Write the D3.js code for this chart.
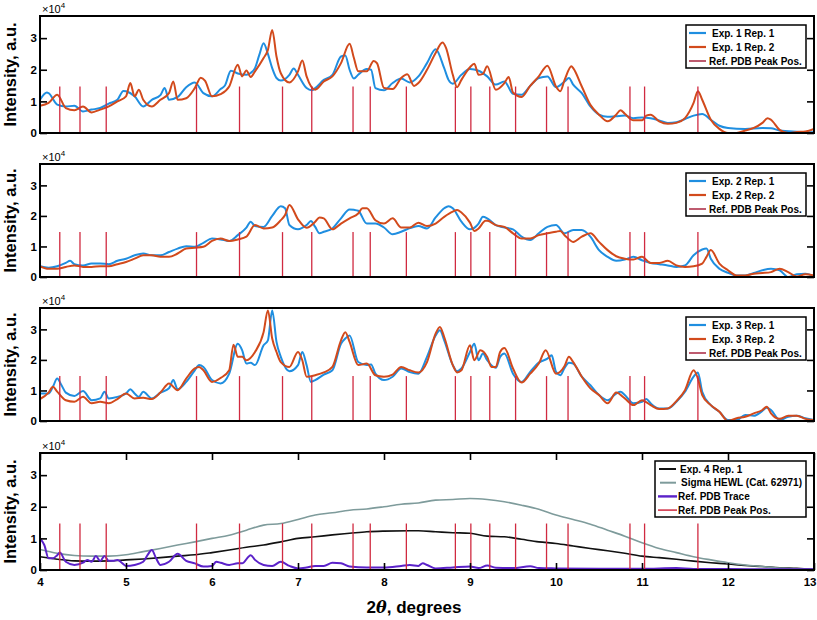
<!DOCTYPE html>
<html><head><meta charset="utf-8">
<script src="https://cdn.jsdelivr.net/npm/d3@7"></script>
<style>
html,body{margin:0;padding:0;background:#fff;}
svg{display:block;font-family:"Liberation Sans",Arial,Helvetica,sans-serif;}
</style></head>
<body>
<svg id="chart" width="817" height="620"></svg>
<script>
// ---------- DATA (intensity in units of 10^4) ----------
const xTicks = [4,5,6,7,8,9,10,11,12,13];
const yTicks = [0,1,2,3];
const refPeaks = [4.23,4.465,4.77,5.82,6.32,6.82,7.16,7.64,7.84,8.26,8.83,9.01,9.23,9.53,9.89,10.14,10.86,11.03,11.65];
const refPeakHeight = 1.47;

const exp1Rep1 = [[4.0,1.05],[4.08,1.28],[4.1,1.26],[4.2,0.9],[4.3,0.84],[4.4,0.86],[4.5,0.68],[4.6,0.74],[4.7,0.79],[4.8,0.93],[4.9,1.05],[4.97,1.33],[5.0,1.32],[5.1,1.16],[5.2,0.84],[5.3,1.05],[5.4,1.2],[5.45,1.42],[5.5,1.05],[5.6,1.14],[5.7,1.45],[5.8,1.6],[5.9,1.26],[6.0,1.16],[6.1,1.39],[6.15,1.5],[6.22,1.97],[6.3,1.88],[6.4,1.84],[6.45,1.9],[6.5,2.05],[6.55,2.47],[6.6,2.84],[6.65,2.5],[6.7,2.05],[6.75,1.74],[6.8,1.66],[6.9,1.84],[6.95,2.04],[7.0,1.84],[7.1,1.42],[7.16,1.35],[7.2,1.42],[7.3,1.68],[7.4,1.84],[7.5,2.42],[7.55,2.45],[7.6,2.0],[7.65,1.72],[7.7,1.84],[7.8,2.02],[7.85,2.0],[7.9,1.42],[8.0,1.35],[8.1,1.58],[8.2,1.72],[8.3,1.6],[8.4,1.79],[8.5,2.21],[8.6,2.65],[8.7,2.05],[8.75,1.68],[8.8,1.56],[8.9,1.84],[9.0,2.02],[9.1,1.97],[9.2,1.79],[9.3,1.53],[9.4,1.63],[9.5,1.24],[9.6,1.21],[9.7,1.49],[9.8,1.74],[9.9,1.79],[10.0,1.45],[10.1,1.63],[10.15,1.74],[10.2,1.53],[10.3,1.26],[10.4,0.84],[10.5,0.58],[10.6,0.51],[10.7,0.53],[10.8,0.55],[10.9,0.47],[11.0,0.49],[11.1,0.47],[11.2,0.4],[11.3,0.32],[11.4,0.34],[11.5,0.44],[11.6,0.55],[11.7,0.6],[11.8,0.42],[11.9,0.23],[12.0,0.16],[12.2,0.13],[12.4,0.16],[12.5,0.15],[12.6,0.08],[12.8,0.04],[13.0,0.02]];
const exp1Rep2 = [[4.0,0.86],[4.1,0.95],[4.2,1.21],[4.3,0.79],[4.4,0.72],[4.5,0.84],[4.6,0.65],[4.7,0.74],[4.8,0.84],[4.9,1.0],[5.0,1.16],[5.05,1.58],[5.1,1.16],[5.15,1.37],[5.2,1.05],[5.3,0.84],[5.4,1.05],[5.5,1.26],[5.55,1.63],[5.6,1.05],[5.7,1.1],[5.8,1.42],[5.87,1.75],[5.92,1.65],[6.0,1.16],[6.1,1.23],[6.2,1.47],[6.3,2.16],[6.35,1.79],[6.4,1.98],[6.45,1.77],[6.5,1.95],[6.6,2.37],[6.65,2.63],[6.7,3.26],[6.75,2.42],[6.8,1.89],[6.9,1.6],[7.0,1.95],[7.05,2.29],[7.1,1.79],[7.2,1.37],[7.3,1.63],[7.4,1.79],[7.5,2.21],[7.6,2.82],[7.65,2.37],[7.7,1.95],[7.8,1.95],[7.88,2.28],[7.92,2.2],[8.0,1.42],[8.1,1.39],[8.2,1.74],[8.27,1.86],[8.35,1.49],[8.4,1.58],[8.5,2.0],[8.6,2.53],[8.68,2.86],[8.72,2.7],[8.8,1.84],[8.85,1.45],[8.9,1.68],[9.0,2.08],[9.05,2.19],[9.1,1.84],[9.15,1.87],[9.2,2.11],[9.3,1.37],[9.4,1.58],[9.45,1.77],[9.5,1.28],[9.6,1.14],[9.7,1.49],[9.8,1.79],[9.9,2.13],[10.0,1.47],[10.05,1.32],[10.1,1.68],[10.18,2.11],[10.2,2.05],[10.3,1.47],[10.4,0.89],[10.5,0.58],[10.6,0.37],[10.7,0.58],[10.75,0.72],[10.8,0.61],[10.9,0.4],[11.0,0.4],[11.05,0.55],[11.1,0.58],[11.2,0.37],[11.3,0.29],[11.4,0.32],[11.5,0.47],[11.6,0.95],[11.65,1.32],[11.7,1.05],[11.8,0.42],[11.9,0.13],[12.0,0.0],[12.1,0.0],[12.2,0.08],[12.3,0.16],[12.4,0.32],[12.46,0.47],[12.5,0.42],[12.6,0.1],[12.7,0.0],[12.8,0.03],[12.9,0.05],[13.0,0.13]];

const exp2Rep1 = [[4.0,0.35],[4.1,0.3],[4.2,0.35],[4.3,0.46],[4.35,0.53],[4.4,0.42],[4.5,0.38],[4.6,0.44],[4.7,0.44],[4.8,0.42],[4.9,0.53],[5.0,0.6],[5.1,0.71],[5.2,0.77],[5.3,0.71],[5.4,0.71],[5.5,0.82],[5.6,0.93],[5.7,1.01],[5.8,0.99],[5.9,1.12],[6.0,1.26],[6.1,1.23],[6.2,1.18],[6.3,1.37],[6.4,1.62],[6.45,1.81],[6.5,1.67],[6.6,1.64],[6.7,2.0],[6.8,2.32],[6.85,2.25],[6.9,1.7],[7.0,1.56],[7.1,1.7],[7.15,1.83],[7.2,1.64],[7.25,1.43],[7.3,1.48],[7.4,1.59],[7.5,1.92],[7.6,2.21],[7.65,2.2],[7.7,2.17],[7.8,1.75],[7.9,1.75],[8.0,1.62],[8.1,1.4],[8.2,1.48],[8.3,1.6],[8.4,1.67],[8.5,1.59],[8.6,1.95],[8.7,2.25],[8.75,2.32],[8.8,2.25],[8.9,1.81],[9.0,1.56],[9.1,1.75],[9.15,1.97],[9.2,1.92],[9.3,1.7],[9.4,1.62],[9.5,1.56],[9.6,1.32],[9.7,1.21],[9.8,1.43],[9.9,1.64],[10.0,1.7],[10.1,1.43],[10.2,1.54],[10.3,1.54],[10.4,1.32],[10.5,0.88],[10.6,0.66],[10.7,0.53],[10.8,0.57],[10.9,0.66],[11.0,0.55],[11.1,0.46],[11.2,0.42],[11.3,0.38],[11.4,0.33],[11.5,0.38],[11.6,0.71],[11.7,0.9],[11.75,0.93],[11.8,0.6],[11.9,0.27],[12.0,0.14],[12.1,0.05],[12.2,0.05],[12.3,0.13],[12.4,0.22],[12.5,0.27],[12.6,0.22],[12.7,0.0],[12.8,0.09],[12.9,0.11],[13.0,0.02]];
const exp2Rep2 = [[4.0,0.35],[4.1,0.27],[4.2,0.27],[4.3,0.33],[4.4,0.38],[4.5,0.33],[4.6,0.33],[4.7,0.35],[4.8,0.35],[4.9,0.42],[5.0,0.49],[5.1,0.6],[5.2,0.71],[5.3,0.71],[5.4,0.66],[5.5,0.66],[5.6,0.77],[5.7,0.93],[5.8,0.96],[5.9,0.99],[6.0,1.18],[6.1,1.26],[6.2,1.18],[6.3,1.23],[6.4,1.32],[6.5,1.7],[6.6,1.59],[6.7,1.62],[6.8,1.86],[6.85,2.03],[6.9,2.36],[7.0,1.89],[7.1,1.61],[7.2,1.81],[7.25,1.95],[7.3,1.92],[7.4,1.56],[7.5,1.75],[7.6,1.92],[7.7,2.08],[7.75,2.25],[7.8,2.25],[7.9,1.86],[8.0,1.75],[8.1,1.92],[8.2,1.62],[8.3,1.62],[8.4,1.78],[8.5,1.67],[8.6,1.75],[8.7,1.97],[8.8,2.14],[8.85,2.19],[8.9,2.11],[9.0,1.78],[9.05,1.51],[9.1,1.59],[9.18,1.84],[9.2,1.84],[9.3,1.7],[9.4,1.64],[9.5,1.43],[9.6,1.26],[9.7,1.26],[9.8,1.37],[9.9,1.43],[10.0,1.48],[10.05,1.51],[10.1,1.37],[10.2,1.15],[10.3,1.32],[10.4,1.43],[10.5,1.15],[10.6,0.88],[10.7,0.68],[10.8,0.6],[10.9,0.57],[11.0,0.66],[11.1,0.46],[11.2,0.46],[11.3,0.53],[11.4,0.38],[11.5,0.33],[11.6,0.35],[11.7,0.44],[11.75,0.66],[11.8,0.88],[11.9,0.44],[12.0,0.22],[12.1,0.05],[12.2,0.05],[12.3,0.11],[12.4,0.13],[12.5,0.16],[12.6,0.27],[12.7,0.16],[12.8,0.02],[12.9,0.09],[13.0,0.05]];

const exp3Rep1 = [[4.0,0.9],[4.1,0.9],[4.15,1.12],[4.2,1.39],[4.25,1.17],[4.3,0.93],[4.4,0.82],[4.5,0.98],[4.6,0.68],[4.7,0.74],[4.75,0.96],[4.8,0.74],[4.9,0.79],[5.0,0.9],[5.05,1.04],[5.1,0.9],[5.15,0.79],[5.2,0.96],[5.3,0.74],[5.4,0.93],[5.5,1.07],[5.55,1.34],[5.6,1.04],[5.7,1.28],[5.8,1.66],[5.85,1.83],[5.9,1.77],[6.0,1.34],[6.1,1.23],[6.2,1.55],[6.3,2.53],[6.35,2.32],[6.4,1.88],[6.45,1.91],[6.5,1.83],[6.6,2.48],[6.65,2.64],[6.7,3.62],[6.75,2.59],[6.8,2.1],[6.9,1.63],[7.0,1.83],[7.05,2.26],[7.1,1.83],[7.15,1.28],[7.2,1.34],[7.3,1.52],[7.4,1.66],[7.5,2.53],[7.55,2.7],[7.6,2.8],[7.7,1.93],[7.8,1.83],[7.85,1.85],[7.9,1.55],[8.0,1.34],[8.1,1.45],[8.2,1.72],[8.3,1.6],[8.4,1.55],[8.5,2.1],[8.6,2.8],[8.65,2.97],[8.7,2.64],[8.8,1.83],[8.85,1.63],[8.9,1.72],[9.0,2.26],[9.05,2.53],[9.1,1.99],[9.15,2.21],[9.2,1.99],[9.3,1.74],[9.35,2.1],[9.4,2.21],[9.5,1.55],[9.6,1.28],[9.7,1.61],[9.8,1.91],[9.9,2.04],[9.95,2.15],[10.0,1.61],[10.05,1.5],[10.1,1.74],[10.15,1.91],[10.2,1.88],[10.3,1.45],[10.4,1.17],[10.5,0.85],[10.6,0.68],[10.7,0.9],[10.75,0.96],[10.8,0.85],[10.9,0.58],[11.0,0.63],[11.05,0.72],[11.1,0.58],[11.2,0.41],[11.3,0.41],[11.4,0.63],[11.5,0.96],[11.6,1.45],[11.65,1.59],[11.7,0.96],[11.8,0.52],[11.9,0.3],[12.0,0.03],[12.1,0.03],[12.2,0.2],[12.3,0.17],[12.4,0.33],[12.45,0.43],[12.5,0.36],[12.6,0.03],[12.7,0.14],[12.8,0.17],[12.9,0.09],[13.0,0.03]];
const exp3Rep2 = [[4.0,0.72],[4.1,0.93],[4.15,1.12],[4.2,0.96],[4.3,0.68],[4.4,0.63],[4.5,0.79],[4.6,0.58],[4.7,0.63],[4.8,0.58],[4.9,0.72],[5.0,0.9],[5.1,0.74],[5.2,0.76],[5.3,0.72],[5.4,0.93],[5.5,1.23],[5.6,1.01],[5.7,1.39],[5.8,1.72],[5.85,1.77],[5.9,1.66],[6.0,1.28],[6.1,1.41],[6.2,1.66],[6.25,2.5],[6.3,2.1],[6.35,2.1],[6.4,1.99],[6.5,2.26],[6.6,2.91],[6.65,3.62],[6.7,2.7],[6.75,2.26],[6.8,1.93],[6.9,1.77],[7.0,2.26],[7.05,1.99],[7.1,1.45],[7.2,1.5],[7.3,1.59],[7.4,1.77],[7.5,2.64],[7.55,2.91],[7.6,2.59],[7.7,1.83],[7.8,1.88],[7.9,1.5],[8.0,1.45],[8.1,1.52],[8.2,1.77],[8.3,1.66],[8.4,1.59],[8.5,1.93],[8.6,2.86],[8.65,3.08],[8.7,2.75],[8.8,1.83],[8.85,1.59],[8.9,1.66],[9.0,2.48],[9.05,1.99],[9.12,2.32],[9.2,2.1],[9.25,1.77],[9.3,1.77],[9.35,2.26],[9.4,2.39],[9.5,1.72],[9.6,1.26],[9.7,1.55],[9.8,1.88],[9.88,2.32],[10.0,1.55],[10.1,1.8],[10.15,2.1],[10.2,1.93],[10.3,1.45],[10.4,1.07],[10.5,0.85],[10.6,0.58],[10.7,0.93],[10.8,0.74],[10.9,0.52],[11.0,0.68],[11.1,0.52],[11.2,0.39],[11.3,0.41],[11.4,0.65],[11.5,1.01],[11.6,1.66],[11.65,1.39],[11.7,0.85],[11.8,0.52],[11.9,0.3],[12.0,0.0],[12.1,0.09],[12.2,0.14],[12.3,0.25],[12.4,0.36],[12.45,0.47],[12.5,0.25],[12.6,0.07],[12.7,0.17],[12.8,0.17],[12.9,0.07],[13.0,0.03]];

const exp4Rep1 = [[4.0,0.42],[4.2,0.34],[4.4,0.29],[4.6,0.28],[4.8,0.29],[5.0,0.32],[5.2,0.35],[5.4,0.39],[5.6,0.44],[5.8,0.48],[6.0,0.55],[6.2,0.63],[6.4,0.72],[6.6,0.79],[6.8,0.89],[7.0,1.0],[7.2,1.05],[7.4,1.11],[7.6,1.16],[7.8,1.21],[8.0,1.23],[8.3,1.24],[8.4,1.24],[8.6,1.21],[8.8,1.18],[9.0,1.16],[9.2,1.07],[9.4,1.05],[9.6,0.97],[9.8,0.89],[10.0,0.84],[10.2,0.76],[10.4,0.68],[10.6,0.61],[10.8,0.53],[11.0,0.44],[11.2,0.39],[11.4,0.34],[11.6,0.28],[11.8,0.23],[12.0,0.19],[12.2,0.14],[12.4,0.11],[12.6,0.07],[12.8,0.05],[13.0,0.02]];
const sigmaHEWL = [[4.0,0.65],[4.2,0.53],[4.4,0.46],[4.6,0.44],[4.8,0.44],[5.0,0.48],[5.2,0.58],[5.4,0.68],[5.6,0.79],[5.8,0.89],[6.0,1.0],[6.2,1.1],[6.4,1.26],[6.6,1.42],[6.8,1.47],[7.0,1.6],[7.2,1.74],[7.4,1.81],[7.6,1.89],[7.8,1.93],[8.0,2.0],[8.2,2.08],[8.4,2.12],[8.6,2.21],[8.8,2.23],[9.0,2.26],[9.2,2.23],[9.4,2.16],[9.6,2.05],[9.8,1.92],[10.0,1.74],[10.2,1.6],[10.4,1.45],[10.6,1.26],[10.8,1.07],[11.0,0.86],[11.2,0.68],[11.4,0.55],[11.6,0.42],[11.8,0.32],[12.0,0.23],[12.2,0.16],[12.4,0.11],[12.6,0.06],[12.8,0.04],[13.0,0.02]];
const refPdbTrace = [[4.0,1.0],[4.05,0.79],[4.1,0.37],[4.15,0.37],[4.2,0.47],[4.23,0.55],[4.3,0.26],[4.4,0.16],[4.5,0.23],[4.55,0.32],[4.6,0.26],[4.65,0.44],[4.7,0.28],[4.75,0.44],[4.8,0.29],[4.85,0.29],[4.9,0.32],[4.95,0.23],[5.0,0.13],[5.1,0.16],[5.2,0.26],[5.25,0.47],[5.3,0.63],[5.35,0.37],[5.4,0.16],[5.5,0.26],[5.6,0.51],[5.7,0.29],[5.8,0.21],[5.9,0.11],[6.0,0.13],[6.05,0.26],[6.1,0.23],[6.2,0.16],[6.3,0.21],[6.35,0.21],[6.45,0.47],[6.5,0.32],[6.6,0.16],[6.7,0.13],[6.8,0.26],[6.9,0.13],[7.0,0.05],[7.1,0.08],[7.2,0.13],[7.3,0.13],[7.4,0.23],[7.5,0.21],[7.6,0.11],[7.8,0.08],[8.0,0.08],[8.2,0.13],[8.3,0.16],[8.4,0.13],[8.45,0.21],[8.5,0.16],[8.6,0.05],[8.8,0.08],[9.0,0.11],[9.1,0.06],[9.2,0.14],[9.3,0.07],[9.5,0.06],[9.7,0.12],[9.8,0.06],[10.0,0.05],[10.5,0.04],[11.0,0.04],[11.4,0.06],[11.6,0.03],[12.0,0.03],[12.5,0.02],[13.0,0.02]];

// ---------- LAYOUT ----------
const W = 817, H = 620;
const X0 = 40, X1 = 814;
const panels = [
  {top:16, bottom:133, series:[{name:"Exp. 1 Rep. 1", data:exp1Rep1, color:"#1f8ee0"},{name:"Exp. 1 Rep. 2", data:exp1Rep2, color:"#d24a1c"}], legend:"small"},
  {top:164, bottom:277, series:[{name:"Exp. 2 Rep. 1", data:exp2Rep1, color:"#1f8ee0"},{name:"Exp. 2 Rep. 2", data:exp2Rep2, color:"#d24a1c"}], legend:"small"},
  {top:308, bottom:421, series:[{name:"Exp. 3 Rep. 1", data:exp3Rep1, color:"#1f8ee0"},{name:"Exp. 3 Rep. 2", data:exp3Rep2, color:"#d24a1c"}], legend:"small"},
  {top:453, bottom:570, series:[{name:"Exp. 4 Rep. 1", data:exp4Rep1, color:"#111111", w:1.6},{name:"Sigma HEWL (Cat. 62971)", data:sigmaHEWL, color:"#7e9b9b", w:1.6},{name:"Ref. PDB Trace", data:refPdbTrace, color:"#5b22c9", w:2}], legend:"big"}
];
const refColor = "#d02a40";

const svg = d3.select("#chart");
svg.append("rect").attr("width",W).attr("height",H).attr("fill","#fff");
const x = d3.scaleLinear().domain([4,13]).range([X0,X1]);

panels.forEach((p,i)=>{
  const y = d3.scaleLinear().domain([0,3.7]).range([p.bottom,p.top]);
  const g = svg.append("g");
  const clipId = "clip"+i;
  svg.append("clipPath").attr("id",clipId).append("rect")
    .attr("x",X0).attr("y",p.top).attr("width",X1-X0).attr("height",p.bottom-p.top);
  const line = d3.line().x(d=>x(d[0])).y(d=>y(d[1])).curve(d3.curveMonotoneX);
  const plot = g.append("g").attr("clip-path",`url(#${clipId})`);
  p.series.forEach(s=>{
    plot.append("path").datum(s.data).attr("d",line).attr("fill","none")
      .attr("stroke",s.color).attr("stroke-width",s.w||2).attr("stroke-linejoin","round");
  });
  plot.selectAll("line.ref").data(refPeaks).enter().append("line")
    .attr("x1",d=>x(d)).attr("x2",d=>x(d)).attr("y1",y(0)).attr("y2",y(refPeakHeight))
    .attr("stroke",refColor).attr("stroke-width",1.3);

  // frame
  g.append("rect").attr("x",X0).attr("y",p.top).attr("width",X1-X0).attr("height",p.bottom-p.top)
    .attr("fill","none").attr("stroke","#000").attr("stroke-width",2);

  // y ticks (inward, both sides)
  const yAxL = d3.axisRight(y).tickValues(yTicks).tickSize(7).tickFormat("");
  const gl = g.append("g").attr("transform",`translate(${X0},0)`).call(yAxL);
  const yAxR = d3.axisLeft(y).tickValues(yTicks).tickSize(7).tickFormat("");
  const gr = g.append("g").attr("transform",`translate(${X1},0)`).call(yAxR);
  [gl,gr].forEach(a=>{a.select(".domain").remove(); a.selectAll(".tick line").attr("stroke","#000").attr("stroke-width",1.6);});
  // y tick labels
  const yLab = d3.axisLeft(y).tickValues(yTicks).tickSize(0).tickPadding(3).tickFormat(d3.format("d"));
  const gyl = g.append("g").attr("transform",`translate(${X0},0)`).call(yLab);
  gyl.select(".domain").remove();
  gyl.selectAll("text").attr("font-size",11.5).attr("font-weight","bold").attr("fill","#000")
     .attr("font-family","Liberation Sans, Arial, sans-serif");

  // ×10^4
  const m = g.append("text").attr("x",X0+2).attr("y",p.top-3).attr("font-size",11).attr("fill","#000");
  m.append("tspan").text("×10");
  m.append("tspan").attr("dy",-5).attr("font-size",8).text("4");

  // y title
  g.append("text").attr("transform",`translate(16,${(p.top+p.bottom)/2}) rotate(-90)`)
    .attr("text-anchor","middle").attr("font-size",16.5).attr("font-weight","bold").text("Intensity, a.u.");

  // x axis ticks for bottom panel
  if(i===3){
    const xb = d3.axisTop(x).tickValues(xTicks).tickSize(7).tickFormat("");
    const gxb = g.append("g").attr("transform",`translate(0,${p.bottom})`).call(xb);
    const xt = d3.axisBottom(x).tickValues(xTicks).tickSize(7).tickFormat("");
    const gxt = g.append("g").attr("transform",`translate(0,${p.top})`).call(xt);
    [gxb,gxt].forEach(a=>{a.select(".domain").remove(); a.selectAll(".tick line").attr("stroke","#000").attr("stroke-width",1.6);});
    const xl = d3.axisBottom(x).tickValues(xTicks).tickSize(0).tickPadding(8).tickFormat(d3.format("d"));
    const gxl = g.append("g").attr("transform",`translate(0,${p.bottom})`).call(xl);
    gxl.select(".domain").remove();
    gxl.selectAll("text").attr("font-size",11.5).attr("font-weight","bold").attr("fill","#000")
      .attr("font-family","Liberation Sans, Arial, sans-serif");
    gxl.selectAll(".tick").filter(d=>d===13).select("text").attr("text-anchor","end").attr("dx",2);
  }

  // legend
  const lg = g.append("g");
  if(p.legend==="small"){
    const bx=686, by=p.top+9, bw=120, bh=43;
    lg.append("rect").attr("x",bx).attr("y",by).attr("width",bw).attr("height",bh)
      .attr("fill","#fff").attr("stroke","#000").attr("stroke-width",1.5);
    const items = [
      {name:p.series[0].name, color:p.series[0].color, w:2.2, tx:712},
      {name:p.series[1].name, color:p.series[1].color, w:2.2, tx:712},
      {name:"Ref. PDB Peak Pos.", color:"#a8253f", w:1.5, tx:709}
    ];
    items.forEach((it,k)=>{
      const ry = by+8+k*14;
      lg.append("line").attr("x1",689).attr("x2",706).attr("y1",ry).attr("y2",ry)
        .attr("stroke",it.color).attr("stroke-width",it.w);
      lg.append("text").attr("x",it.tx).attr("y",ry+3.6).attr("font-size",10).attr("font-weight","bold").text(it.name);
    });
  } else {
    const bx=655, by=p.top+8, bw=151, bh=56;
    lg.append("rect").attr("x",bx).attr("y",by).attr("width",bw).attr("height",bh)
      .attr("fill","#fff").attr("stroke","#000").attr("stroke-width",1.5);
    const items = [
      {name:p.series[0].name, color:p.series[0].color, w:2, x1:659, x2:676, tx:680},
      {name:p.series[1].name, color:p.series[1].color, w:2, x1:660, x2:676, tx:681},
      {name:p.series[2].name, color:p.series[2].color, w:2.4, x1:658, x2:677, tx:678},
      {name:"Ref. PDB Peak Pos.", color:refColor, w:1.5, x1:658, x2:677, tx:678}
    ];
    items.forEach((it,k)=>{
      const ry = by+8+k*13.7;
      lg.append("line").attr("x1",it.x1).attr("x2",it.x2).attr("y1",ry).attr("y2",ry)
        .attr("stroke",it.color).attr("stroke-width",it.w);
      lg.append("text").attr("x",it.tx).attr("y",ry+3.6).attr("font-size",10).attr("font-weight","bold").text(it.name);
    });
  }
});

// x title
const xt = svg.append("text").attr("x",414).attr("y",613).attr("text-anchor","middle")
  .attr("font-size",17).attr("font-weight","bold");
xt.append("tspan").text("2");
xt.append("tspan").attr("font-style","italic").attr("font-family","DejaVu Serif, serif").attr("font-size",16).text("θ");
xt.append("tspan").text(", degrees");
</script>
</body></html>
